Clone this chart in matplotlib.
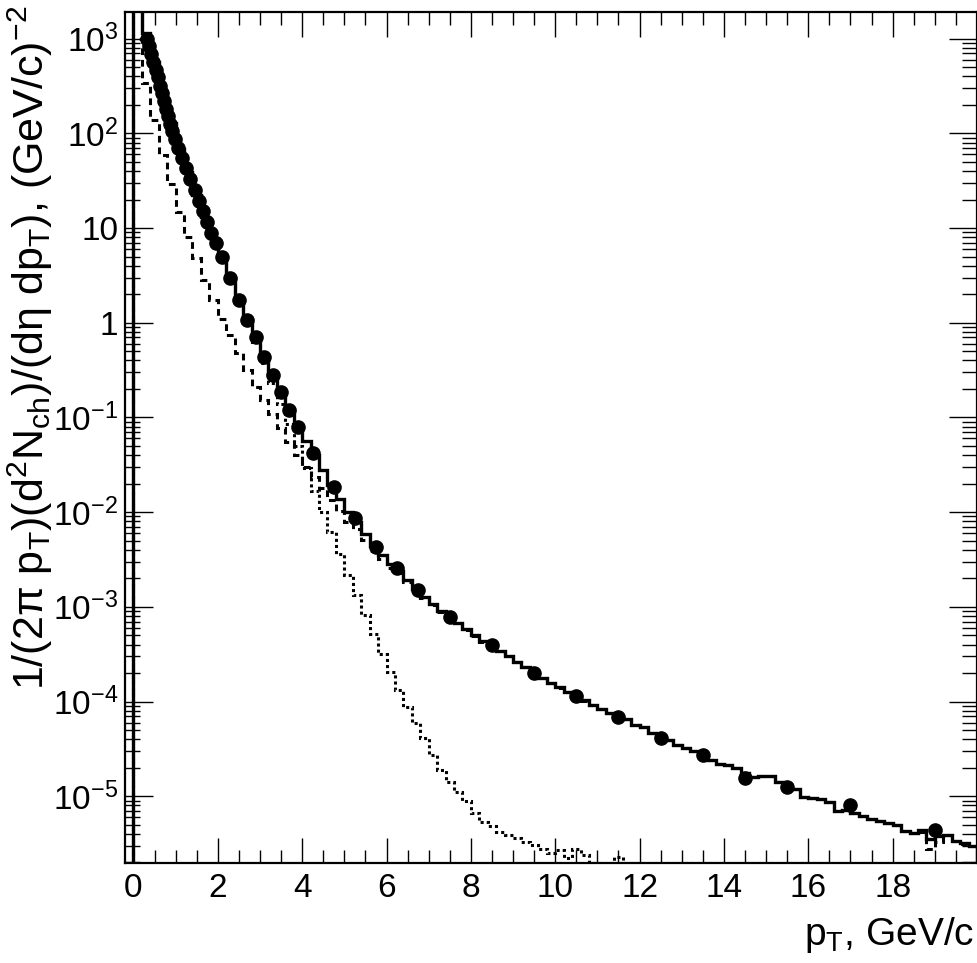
import numpy as np
import matplotlib
matplotlib.use('Agg')
import matplotlib.pyplot as plt
from matplotlib.ticker import FixedLocator, FixedFormatter, MultipleLocator, LogLocator, NullFormatter

plt.rcParams['font.family'] = ['Liberation Sans', 'DejaVu Sans']
plt.rcParams['mathtext.fontset'] = 'custom'
plt.rcParams['mathtext.rm'] = 'Liberation Sans'
plt.rcParams['mathtext.it'] = 'Liberation Sans:italic'
plt.rcParams['mathtext.sf'] = 'Liberation Sans'
plt.rcParams['mathtext.default'] = 'regular'

# histogram binning (0.2 GeV/c bins)
pt_min, pt_max, n_bins = 0.0, 20.0, 100

# total spectrum (solid)
total = [5000, 1150, 560, 265, 130, 68, 39, 22.5, 13.2, 7.9,
         4.8, 2.95, 1.78, 1.08, 0.69, 0.44, 0.285, 0.185, 0.122, 0.082,
         0.056, 0.040, 0.028, 0.0195, 0.0137, 0.0100, 0.0079, 0.0059, 0.0044, 0.0035,
         0.0028, 0.0024, 0.0019, 0.00155, 0.00128, 0.00107, 0.00090, 0.00079, 0.00068, 0.00058,
         0.00050, 0.00044, 0.00039, 0.00034, 0.00030, 0.00026, 0.00023, 0.000205, 0.000178, 0.000158,
         0.000142, 0.000127, 0.000115, 0.000103, 0.000092, 8.3e-5, 7.6e-5, 7.0e-5, 6.5e-5, 5.6e-5,
         5.4e-5, 4.6e-5, 4.3e-5, 3.9e-5, 3.5e-5, 3.2e-5, 3.0e-5, 2.8e-5, 2.4e-5, 2.2e-5,
         2.15e-5, 2.0e-5, 1.78e-5, 1.6e-5, 1.65e-5, 1.65e-5, 1.4e-5, 1.35e-5, 1.2e-5, 9.8e-6,
         9.5e-6, 9.3e-6, 8.6e-6, 7.0e-6, 7.2e-6, 6.6e-6, 6.2e-6, 5.7e-6, 5.5e-6, 5.2e-6,
         5.0e-6, 4.3e-6, 4.1e-6, 4.4e-6, 3.5e-6, 3.8e-6, 3.9e-6, 3.4e-6, 3.2e-6, 3.0e-6]

# hard component (dashed)
hard = [1000, 340, 138, 59, 29, 14.8, 8.1, 4.8, 2.8, 1.74,
        1.09, 0.74, 0.48, 0.32, 0.21, 0.153, 0.110, 0.077, 0.055, 0.040,
        0.030, 0.0235, 0.018, 0.0134, 0.0102, 0.0078, 0.0066, 0.0051, 0.0039, 0.0032,
        0.0026, 0.0023, 0.00181, 0.00149, 0.00124, 0.00105, 0.00089, 0.00078, 0.00067, 0.00057,
        0.00049, 0.00043, 0.00038, 0.00034, 0.00030, 0.00026, 0.00023, 0.000203, 0.000176, 0.000157,
        0.000140, 0.000126, 0.000113, 0.000102, 0.000092, 8.3e-5, 7.6e-5, 7.0e-5, 6.5e-5, 5.6e-5,
        5.4e-5, 4.6e-5, 4.3e-5, 3.9e-5, 3.5e-5, 3.2e-5, 3.0e-5, 2.8e-5, 2.4e-5, 2.2e-5,
        2.15e-5, 2.0e-5, 1.78e-5, 1.6e-5, 1.65e-5, 1.65e-5, 1.4e-5, 1.35e-5, 1.2e-5, 9.8e-6,
        9.5e-6, 9.3e-6, 8.6e-6, 7.0e-6, 7.2e-6, 6.6e-6, 6.2e-6, 5.7e-6, 5.5e-6, 5.2e-6,
        5.0e-6, 4.3e-6, 4.1e-6, 4.2e-6, 2.8e-6, 3.3e-6, 3.9e-6, 3.4e-6, 3.1e-6, 3.0e-6]

# soft component (dotted), empty bins are 0
soft = [5000, 1150, 560, 265, 130, 68, 39, 22.5, 13.2, 7.9,
        4.8, 2.95, 1.76, 1.0, 0.62, 0.38, 0.23, 0.14, 0.085, 0.050,
        0.029, 0.0169, 0.0100, 0.0061, 0.00365, 0.00217, 0.00133, 0.00082, 0.00052, 0.00032,
        0.000207, 0.000132, 8.8e-5, 5.9e-5, 4.1e-5, 2.7e-5, 1.9e-5, 1.42e-5, 1.12e-5, 8.8e-6,
        6.6e-6, 5.4e-6, 4.8e-6, 4.2e-6, 3.9e-6, 3.6e-6, 3.3e-6, 3.05e-6, 2.8e-6, 2.5e-6,
        2.7e-6, 2.2e-6, 2.8e-6, 2.4e-6, 0, 0, 0, 2.3e-6, 0, 0,
        0, 0, 0, 0, 0, 0, 0, 0, 0, 0,
        0, 0, 0, 0, 0, 0, 0, 0, 0, 0,
        0, 0, 0, 0, 0, 0, 0, 0, 0, 0,
        0, 0, 0, 0, 0, 0, 0, 0, 0, 0]

# measured points
data_pt = [0.325, 0.375, 0.425, 0.475, 0.525, 0.575, 0.625, 0.675, 0.725, 0.775,
           0.825, 0.875, 0.925, 0.975, 1.05, 1.15, 1.25, 1.35, 1.45, 1.55,
           1.65, 1.75, 1.85, 1.95, 2.1, 2.3, 2.5, 2.7, 2.9, 3.1,
           3.3, 3.5, 3.7, 3.9, 4.25, 4.75, 5.25, 5.75, 6.25, 6.75,
           7.5, 8.5, 9.5, 10.5, 11.5, 12.5, 13.5, 14.5, 15.5, 17.0, 19.0]
data_y = [1000, 830, 690, 570, 470, 390, 320, 265, 220, 182,
          151, 126, 105, 88, 70, 55, 43, 33, 25.5, 19.5,
          15, 11.5, 8.9, 6.9, 4.9, 2.95, 1.72, 1.07, 0.70, 0.44,
          0.28, 0.186, 0.12, 0.080, 0.042, 0.0185, 0.0086, 0.0043, 0.00255, 0.0015,
          7.9e-4, 3.95e-4, 2.0e-4, 1.14e-4, 6.9e-5, 4.1e-5, 2.75e-5, 1.54e-5, 1.26e-5, 8.0e-6, 4.4e-6]

y_floor, y_top = 1.97e-6, 1910

y_major = [1e-5, 1e-4, 1e-3, 1e-2, 1e-1, 1, 10, 100, 1000]
y_labels = ['$10^{-5}$', '$10^{-4}$', '$10^{-3}$', '$10^{-2}$', '$10^{-1}$',
            '1', '10', '$10^{2}$', '$10^{3}$']

fig = plt.figure(figsize=(9.78, 9.63), dpi=100)
ax = fig.add_axes([0.1278, 0.1038, 0.8712, 0.8837])
ax.set_yscale('log')

edges = np.linspace(pt_min, pt_max, n_bins + 1)


def draw_hist(vals, **kw):
    # empty bins sit on the lower frame, like ROOT does
    v = np.maximum(np.asarray(vals, dtype=float), y_floor)
    ax.stairs(v, edges, baseline=y_floor * 0.5, color='black', fill=False, **kw)


draw_hist(soft, lw=2.2, linestyle=(0, (1.0, 1.0)))
draw_hist(hard, lw=2.2, linestyle=(0, (2.2, 1.6)))
draw_hist(total, lw=2.4, linestyle='-')
ax.plot(data_pt, data_y, 'o', color='black', ms=9.5, zorder=5)

ax.set_xlim(-0.2, 20)
ax.set_ylim(y_floor, y_top)

ax.xaxis.set_major_locator(FixedLocator(np.arange(0, 21, 2)))
ax.xaxis.set_major_formatter(FixedFormatter([str(v) for v in range(0, 20, 2)] + ['']))
ax.xaxis.set_minor_locator(MultipleLocator(0.5))
ax.yaxis.set_major_locator(FixedLocator(y_major))
ax.yaxis.set_major_formatter(FixedFormatter(y_labels))
ax.yaxis.set_minor_locator(LogLocator(base=10, subs=np.arange(2, 10), numticks=20))
ax.yaxis.set_minor_formatter(NullFormatter())

ax.tick_params(which='both', direction='in', top=True, right=True, width=1.0, labelsize=24)
ax.tick_params(axis='x', which='major', length=18, pad=7)
ax.tick_params(axis='x', which='minor', length=9.5)
ax.tick_params(axis='y', which='major', length=20, pad=5)
ax.tick_params(axis='y', which='minor', length=10.5)
for s in ax.spines.values():
    s.set_linewidth(1.6)

fig.text(30 / 978, 1 - 5 / 963,
         r'1/(2$\pi$ p$_{T}$)(d$^{2}$N$_{ch}$)/(d$\eta$ dp$_{T}$), (GeV/c)$^{-2}$',
         rotation=90, ha='center', va='top', fontsize=31)
fig.text(974 / 978, 1 - 935 / 963, r'p$_{T}$, GeV/c', ha='right', va='center', fontsize=28)

fig.savefig('out.png', dpi=100)
